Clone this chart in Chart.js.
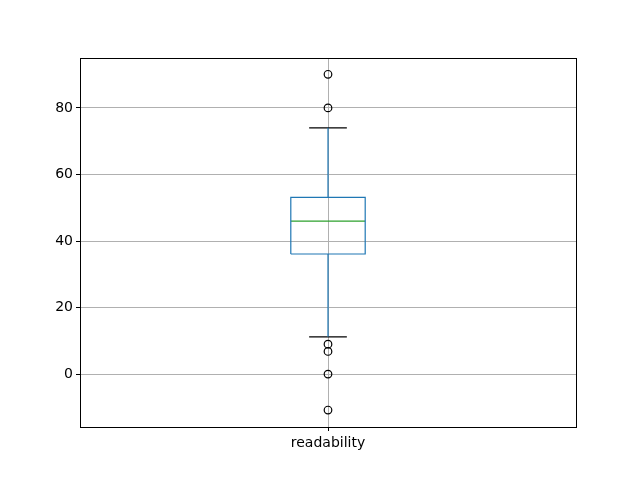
<!DOCTYPE html>
<html><head><meta charset="utf-8">
<script src="https://cdn.jsdelivr.net/npm/chart.js@4/dist/chart.umd.min.js"></script>
<style>html,body{margin:0;padding:0;background:#fff}#wrap{width:640px;height:480px}</style>
</head><body><div id="wrap"><canvas id="c" width="640" height="480"></canvas></div>
<script>
const categories = ["readability"];
const q1 = [36.1];
const median = [46.0];
const q3 = [53.1];
const whiskerLow = [11.2];
const whiskerHigh = [74.0];
const outliers = [90.1, 80.0, 9.0, 6.8, 0.0, -10.8];
const yTicks = [0, 20, 40, 60, 80];

const pos = 1, halfBox = 0.075, halfCap = 0.038;
const i = 0;
const boxPts = [
  {x: pos-halfBox, y: q1[i]}, {x: pos+halfBox, y: q1[i]},
  {x: pos+halfBox, y: q3[i]}, {x: pos-halfBox, y: q3[i]}, {x: pos-halfBox, y: q1[i]}
];
const lineDs = (data, color) => ({type:'line', data, borderColor:color, borderWidth:1.2,
  pointRadius:0, fill:false, tension:0, showLine:true});

const framePlugin = {id:'frame', afterDatasetsDraw(chart){
  const a = chart.chartArea, ctx = chart.ctx;
  ctx.save(); ctx.strokeStyle='#000'; ctx.lineWidth=1;
  ctx.strokeRect(Math.round(a.left)+0.5, Math.round(a.top)+0.5, Math.round(a.right-a.left), Math.round(a.bottom-a.top));
  ctx.restore();
}};

new Chart(document.getElementById('c'), {
  type: 'scatter',
  data: { datasets: [
    lineDs([{x:pos,y:q3[i]},{x:pos,y:whiskerHigh[i]}], '#1f77b4'),
    lineDs([{x:pos,y:q1[i]},{x:pos,y:whiskerLow[i]}], '#1f77b4'),
    lineDs(boxPts, '#1f77b4'),
    lineDs([{x:pos-halfBox,y:median[i]},{x:pos+halfBox,y:median[i]}], '#2ca02c'),
    lineDs([{x:pos-halfCap,y:whiskerHigh[i]},{x:pos+halfCap,y:whiskerHigh[i]}], '#000'),
    lineDs([{x:pos-halfCap,y:whiskerLow[i]},{x:pos+halfCap,y:whiskerLow[i]}], '#000'),
    {type:'scatter', data: outliers.map(v=>({x:pos,y:v})), pointRadius:3.8, pointStyle:'circle',
     backgroundColor:'rgba(0,0,0,0)', borderColor:'#000', borderWidth:1.2, pointHoverRadius:3.8}
  ]},
  options: {
    responsive:false, animation:false, devicePixelRatio:1,
    plugins:{legend:{display:false}, tooltip:{enabled:false}},
    layout:{padding:{left:1, top:58, right:64, bottom:0}},
    scales:{
      x:{type:'linear', min:0.5, max:1.5,
        afterBuildTicks(s){ s.ticks = categories.map((c,k)=>({value:k+1})); },
        afterFit(s){ s.height = 53; },
        ticks:{callback:(v)=>categories[Math.round(v)-1] ?? '', color:'#000', padding:4,
          font:{family:'DejaVu Sans', size:14}, maxRotation:0},
        grid:{color:'#b0b0b0', lineWidth:1, tickLength:4, tickColor:'#000', drawTicks:true},
        border:{display:false}
      },
      y:{type:'linear', min:-15.9, max:95.0,
        afterBuildTicks(s){ s.ticks = yTicks.map(v=>({value:v})); },
        afterFit(s){ s.width = 79; },
        ticks:{color:'#000', padding:3, font:{family:'DejaVu Sans', size:14}},
        grid:{color:'#b0b0b0', lineWidth:1, tickLength:4, tickColor:'#000', drawTicks:true},
        border:{display:false}
      }
    }
  },
  plugins:[framePlugin]
});
</script></body></html>
